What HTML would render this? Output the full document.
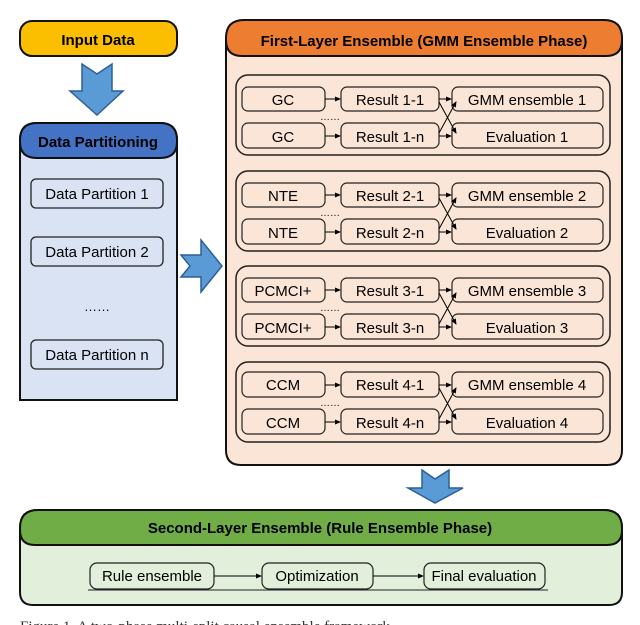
<!DOCTYPE html>
<html><head><meta charset="utf-8"><style>
html,body{margin:0;padding:0;background:#fff;}
svg{display:block;font-family:"Liberation Sans",Arial,sans-serif;}
</style></head><body>
<svg width="640" height="625" viewBox="0 0 640 625" xmlns="http://www.w3.org/2000/svg">
<defs>
<marker id="ah" markerWidth="6" markerHeight="6" refX="5" refY="3" orient="auto" markerUnits="userSpaceOnUse"><path d="M0,0.5 L6,3 L0,5.5z" fill="#000"/></marker>
<g id="row">
</g>
</defs>

<!-- Input Data -->
<rect x="20" y="21" width="157" height="35" rx="12" fill="#fbbf00" stroke="#111" stroke-width="2"/>
<text x="98" y="45" font-size="15" font-weight="bold" text-anchor="middle">Input Data</text>
<!-- down arrow -->
<path d="M82,64 L97,74 L112,64 L112,91 L123,91 L97,115 L70,91 L82,91 Z" fill="#5b9bd5" stroke="#2e5e9a" stroke-width="1.5"/>

<!-- Data Partitioning -->
<path d="M20,140 Q20,123 37,123 L160,123 Q177,123 177,140 L177,400 L20,400 Z" fill="#dae3f3" stroke="#111" stroke-width="2"/>
<path d="M20,140 Q20,123 37,123 L160,123 Q177,123 177,140 L177,142 Q177,158 160,158 L37,158 Q20,158 20,142 Z" fill="#4472c4" stroke="#111" stroke-width="2"/>
<text x="98" y="147" font-size="15" font-weight="bold" text-anchor="middle">Data Partitioning</text>
<g fill="#dae3f3" stroke="#222" stroke-width="1.3">
<rect x="31" y="179" width="132" height="29" rx="5"/>
<rect x="31" y="237" width="132" height="29" rx="5"/>
<rect x="31" y="340" width="132" height="29" rx="5"/>
</g>
<g font-size="15" text-anchor="middle">
<text x="97" y="199">Data Partition 1</text>
<text x="97" y="257">Data Partition 2</text>
<text x="97" y="311" font-size="13">……</text>
<text x="97" y="360">Data Partition n</text>
</g>

<!-- right arrow -->
<path d="M181,255 L201,255 L201,240 L222,266 L201,292 L201,277 L181,277 L190,266 Z" fill="#5b9bd5" stroke="#2e5e9a" stroke-width="1.5"/>

<!-- First layer -->
<path d="M226,40 Q226,20 246,20 L602,20 Q622,20 622,40 L622,450 Q622,465 607,465 L241,465 Q226,465 226,450 Z" fill="#fbe5d6" stroke="#111" stroke-width="2"/>
<path d="M226,38 Q226,20 244,20 L604,20 Q622,20 622,38 L622,40 Q622,56 606,56 L242,56 Q226,56 226,40 Z" fill="#ed7d31" stroke="#111" stroke-width="2"/>
<text x="424" y="46" font-size="15" font-weight="bold" text-anchor="middle">First-Layer Ensemble (GMM Ensemble Phase)</text>

<g font-size="15" text-anchor="middle">
<g transform="translate(0,75)">
<rect x="236" y="0" width="374" height="80" rx="12" fill="none" stroke="#222" stroke-width="1.5"/>
<g fill="#fbe5d6" stroke="#222" stroke-width="1.2">
<rect x="242" y="12" width="83" height="24" rx="6"/><rect x="341" y="12" width="98" height="24" rx="6"/><rect x="452" y="12" width="151" height="24" rx="6"/>
<rect x="242" y="48" width="83" height="25" rx="6"/><rect x="341" y="48" width="98" height="25" rx="6"/><rect x="452" y="48" width="151" height="25" rx="6"/>
</g>
<g stroke="#000" stroke-width="1" marker-end="url(#ah)">
<line x1="325" y1="24" x2="340" y2="24"/><line x1="325" y1="61" x2="340" y2="61"/>
<line x1="439" y1="24" x2="451" y2="24"/><line x1="439" y1="61" x2="451" y2="61"/>
<line x1="439" y1="27" x2="456" y2="58"/><line x1="439" y1="58" x2="456" y2="27"/>
</g>
<text x="330" y="45" font-size="10">……</text>
<text x="283" y="30">GC</text><text x="390" y="30">Result 1-1</text><text x="527" y="30">GMM ensemble 1</text>
<text x="283" y="67">GC</text><text x="390" y="67">Result 1-n</text><text x="527" y="67">Evaluation 1</text>
</g>
<g transform="translate(0,171)">
<rect x="236" y="0" width="374" height="80" rx="12" fill="none" stroke="#222" stroke-width="1.5"/>
<g fill="#fbe5d6" stroke="#222" stroke-width="1.2">
<rect x="242" y="12" width="83" height="24" rx="6"/><rect x="341" y="12" width="98" height="24" rx="6"/><rect x="452" y="12" width="151" height="24" rx="6"/>
<rect x="242" y="48" width="83" height="25" rx="6"/><rect x="341" y="48" width="98" height="25" rx="6"/><rect x="452" y="48" width="151" height="25" rx="6"/>
</g>
<g stroke="#000" stroke-width="1" marker-end="url(#ah)">
<line x1="325" y1="24" x2="340" y2="24"/><line x1="325" y1="61" x2="340" y2="61"/>
<line x1="439" y1="24" x2="451" y2="24"/><line x1="439" y1="61" x2="451" y2="61"/>
<line x1="439" y1="27" x2="456" y2="58"/><line x1="439" y1="58" x2="456" y2="27"/>
</g>
<text x="330" y="45" font-size="10">……</text>
<text x="283" y="30">NTE</text><text x="390" y="30">Result 2-1</text><text x="527" y="30">GMM ensemble 2</text>
<text x="283" y="67">NTE</text><text x="390" y="67">Result 2-n</text><text x="527" y="67">Evaluation 2</text>
</g>
<g transform="translate(0,266)">
<rect x="236" y="0" width="374" height="80" rx="12" fill="none" stroke="#222" stroke-width="1.5"/>
<g fill="#fbe5d6" stroke="#222" stroke-width="1.2">
<rect x="242" y="12" width="83" height="24" rx="6"/><rect x="341" y="12" width="98" height="24" rx="6"/><rect x="452" y="12" width="151" height="24" rx="6"/>
<rect x="242" y="48" width="83" height="25" rx="6"/><rect x="341" y="48" width="98" height="25" rx="6"/><rect x="452" y="48" width="151" height="25" rx="6"/>
</g>
<g stroke="#000" stroke-width="1" marker-end="url(#ah)">
<line x1="325" y1="24" x2="340" y2="24"/><line x1="325" y1="61" x2="340" y2="61"/>
<line x1="439" y1="24" x2="451" y2="24"/><line x1="439" y1="61" x2="451" y2="61"/>
<line x1="439" y1="27" x2="456" y2="58"/><line x1="439" y1="58" x2="456" y2="27"/>
</g>
<text x="330" y="45" font-size="10">……</text>
<text x="283" y="30">PCMCI+</text><text x="390" y="30">Result 3-1</text><text x="527" y="30">GMM ensemble 3</text>
<text x="283" y="67">PCMCI+</text><text x="390" y="67">Result 3-n</text><text x="527" y="67">Evaluation 3</text>
</g>
<g transform="translate(0,362)">
<rect x="236" y="0" width="374" height="80" rx="12" fill="none" stroke="#222" stroke-width="1.5"/>
<g fill="#fbe5d6" stroke="#222" stroke-width="1.2">
<rect x="242" y="10" width="83" height="25" rx="6"/><rect x="341" y="10" width="98" height="25" rx="6"/><rect x="452" y="10" width="151" height="25" rx="6"/>
<rect x="242" y="47" width="83" height="25" rx="6"/><rect x="341" y="47" width="98" height="25" rx="6"/><rect x="452" y="47" width="151" height="25" rx="6"/>
</g>
<g stroke="#000" stroke-width="1" marker-end="url(#ah)">
<line x1="325" y1="23" x2="340" y2="23"/><line x1="325" y1="60" x2="340" y2="60"/>
<line x1="439" y1="23" x2="451" y2="23"/><line x1="439" y1="60" x2="451" y2="60"/>
<line x1="439" y1="26" x2="456" y2="57"/><line x1="439" y1="57" x2="456" y2="26"/>
</g>
<text x="330" y="44" font-size="10">……</text>
<text x="283" y="28">CCM</text><text x="390" y="28">Result 4-1</text><text x="527" y="28">GMM ensemble 4</text>
<text x="283" y="66">CCM</text><text x="390" y="66">Result 4-n</text><text x="527" y="66">Evaluation 4</text>
</g>
</g>

<!-- down arrow 2 -->
<path d="M422,470 L435,479 L449,470 L449,488 L463,488 L435,503 L408,488 L422,488 Z" fill="#5b9bd5" stroke="#2e5e9a" stroke-width="1.5"/>

<!-- Second layer -->
<path d="M20,528 Q20,510 38,510 L604,510 Q622,510 622,528 L622,592 Q622,605 609,605 L33,605 Q20,605 20,592 Z" fill="#e2efda" stroke="#111" stroke-width="2"/>
<path d="M20,528 Q20,510 38,510 L604,510 Q622,510 622,528 L622,530 Q622,545 607,545 L35,545 Q20,545 20,530 Z" fill="#70ad47" stroke="#111" stroke-width="2"/>
<text x="320" y="533" font-size="15" font-weight="bold" text-anchor="middle">Second-Layer Ensemble (Rule Ensemble Phase)</text>
<g fill="#e2efda" stroke="#222" stroke-width="1.2">
<rect x="90" y="563" width="124" height="26" rx="7"/>
<rect x="262" y="563" width="111" height="26" rx="7"/>
<rect x="424" y="563" width="121" height="26" rx="7"/>
</g>
<line x1="88" y1="590" x2="548" y2="590" stroke="#222" stroke-width="1"/>
<g stroke="#000" stroke-width="1" marker-end="url(#ah)">
<line x1="214" y1="576" x2="261" y2="576"/>
<line x1="373" y1="576" x2="423" y2="576"/>
</g>
<g font-size="15" text-anchor="middle">
<text x="152" y="581">Rule ensemble</text>
<text x="317" y="581">Optimization</text>
<text x="484" y="581">Final evaluation</text>
</g>
<text x="20" y="631" font-family="Liberation Serif,serif" font-size="15" fill="#333">Figure 1. A two-phase multi-split causal ensemble framework.</text>
</svg>
</body></html>
